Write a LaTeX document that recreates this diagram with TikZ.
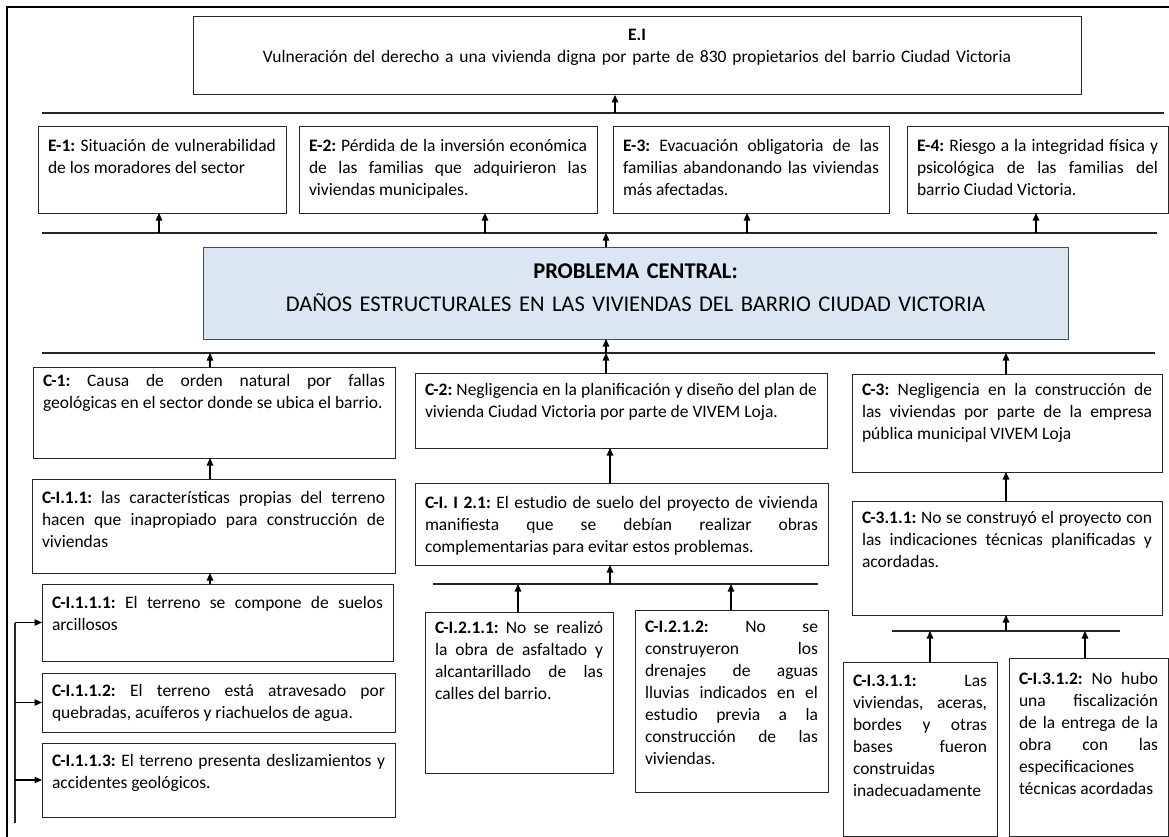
\documentclass[tikz,border=0pt]{standalone}
\usepackage{fontspec}
\setmainfont{Carlito}
\usetikzlibrary{arrows.meta}
\frenchspacing
\hbadness=10000 \tolerance=10000 \hfuzz=30pt \vfuzz=30pt
\definecolor{probfill}{RGB}{220,230,242}
\definecolor{probdraw}{RGB}{64,76,92}
\definecolor{boxdraw}{RGB}{40,40,40}
\tikzset{
  tbox/.style={draw=boxdraw, line width=1pt, anchor=north west, inner xsep=10pt, inner ysep=0pt, outer sep=0pt, align=justify, font=\fontsize{17.5}{22}\selectfont\frenchspacing},
  arr/.style={-{Triangle[width=6.5pt,length=7.5pt]}, line width=1.1pt, draw=black},
  hline/.style={line width=1.1pt, draw=black!85},
  frame/.style={line width=1.8pt, draw=black},
}
\newcommand\mkbox[8][]{%
  \pgfmathsetmacro\bxw{#5-#3-20}%
  \pgfmathsetmacro\bxd{#6-#4-#7}%
  \node[tbox,#1, text width=\bxw pt, text height=#7pt, text depth=\bxd pt] (#2) at (#3,#4) {#8};}
\begin{document}
\begin{tikzpicture}[x=1pt,y=-1pt]
\fill[white] (0,0) rectangle (1169,837);
\useasboundingbox (0,0) rectangle (1169,837);
% frame
\draw[frame] (7,837) -- (7,7) -- (1169,7);
% effects
\mkbox[align=center]{EI}{193}{17}{1081}{95}{24}{\textbf{E.I}\\Vulneración del derecho a una vivienda digna por parte de 830 propietarios del barrio Ciudad Victoria}
\mkbox{E1}{38}{127}{286}{213}{25}{\textbf{E-1:} Situación de vulnerabilidad\linebreak de los moradores del sector}
\mkbox{E2}{299}{127}{597}{213}{25}{\textbf{E-2:} Pérdida de la inversión económica\linebreak de las familias que adquirieron las\linebreak viviendas municipales.}
\mkbox{E3}{613}{127}{889}{213}{25}{\textbf{E-3:} Evacuación obligatoria de las\linebreak familias abandonando las viviendas\linebreak más afectadas.}
\mkbox{E4}{907}{127}{1168}{213}{25}{\textbf{E-4:} Riesgo a la integridad física y\linebreak psicológica de las familias del\linebreak barrio Ciudad Victoria.}
% central problem
\mkbox[align=center, fill=probfill, draw=probdraw, font=\fontsize{22.5}{33}\selectfont]{P}{203}{247}{1068}{339}{31}{\textbf{PROBLEMA CENTRAL:}\\DAÑOS ESTRUCTURALES EN LAS VIVIENDAS DEL BARRIO CIUDAD VICTORIA}
% causes
\mkbox{C1}{33}{367}{395}{458}{19}{\textbf{C-1:} Causa de orden natural por fallas\linebreak geológicas en el sector donde se ubica el barrio.}
\mkbox{C2}{415}{373}{827}{448}{22}{\textbf{C-2:} Negligencia en la planificación y diseño del plan de\linebreak vivienda Ciudad Victoria por parte de VIVEM Loja.}
\mkbox{C3}{852}{374}{1162}{472}{21}{\textbf{C-3:} Negligencia en la construcción de\linebreak las viviendas por parte de la empresa\linebreak pública municipal VIVEM Loja}
\mkbox{C11}{32}{479}{395}{573}{24}{\textbf{C-I.1.1:} las características propias del terreno\linebreak hacen que inapropiado para construcción de\linebreak viviendas}
\mkbox{C111}{42}{584}{393}{661}{24}{\textbf{C-I.1.1.1:} El terreno se compone de suelos\linebreak arcillosos}
\mkbox{C112}{42}{673}{395}{732}{23}{\textbf{C-I.1.1.2:} El terreno está atravesado por\linebreak quebradas, acuíferos y riachuelos de agua.}
\mkbox{C113}{42}{743}{395}{817}{23}{\textbf{C-I.1.1.3:} El terreno presenta deslizamientos y\linebreak accidentes geológicos.}
\mkbox{C21}{415}{483}{828}{565}{25}{\textbf{C-I. I 2.1:} El estudio de suelo del proyecto de vivienda\linebreak manifiesta que se debían realizar obras\linebreak complementarias para evitar estos problemas.}
\mkbox{C211}{425}{612}{613}{773}{21}{\textbf{C-I.2.1.1:} No se realizó\linebreak la obra de asfaltado y\linebreak alcantarillado de las\linebreak calles del barrio.}
\mkbox{C212}{635}{610}{828}{792}{22}{\textbf{C-I.2.1.2:} No se\linebreak construyeron los\linebreak drenajes de aguas\linebreak lluvias indicados en el\linebreak estudio previa a la\linebreak construcción de las\linebreak viviendas.}
\mkbox{C31}{852}{501}{1162}{615}{22}{\textbf{C-3.1.1:} No se construyó el proyecto con\linebreak las indicaciones técnicas planificadas y\linebreak acordadas.}
\mkbox{C311}{843}{662}{997}{836}{24}{\textbf{C-I.3.1.1:} Las\linebreak viviendas, aceras,\linebreak bordes y otras\linebreak bases fueron\linebreak construidas\linebreak inadecuadamente}
\mkbox{C312}{1009}{658}{1168}{836}{26}{\textbf{C-I.3.1.2:} No hubo\linebreak una fiscalización\linebreak de la entrega de la\linebreak obra con las\linebreak especificaciones\linebreak técnicas acordadas}
% horizontal lines
\coordinate (LA1) at (42,113); \coordinate (LA2) at (1164,113);
\coordinate (LB1) at (42,233); \coordinate (LB2) at (1157,233);
\coordinate (LC1) at (42,353); \coordinate (LC2) at (1155,353);
\coordinate (LD1) at (433,584); \coordinate (LD2) at (818,584);
\coordinate (LE1) at (892,631); \coordinate (LE2) at (1120,631);
\draw[hline] (LA1) -- (LA2);
\draw[hline] (LB1) -- (LB2);
\draw[hline] (LC1) -- (LC2);
\draw[hline] (LD1) -- (LD2);
\draw[hline] (LE1) -- (LE2);
% arrow anchor points on lines
\coordinate (aEI) at (615,113);
\coordinate (b1) at (159,233); \coordinate (b2) at (485,233);
\coordinate (b3) at (747,233); \coordinate (b4) at (1036,233);
\coordinate (bP) at (606,233);
\coordinate (cP) at (606,353); \coordinate (c1) at (210,353); \coordinate (c3) at (1006,353);
\coordinate (d0) at (610,584); \coordinate (d1) at (518,584); \coordinate (d2) at (731,584);
\coordinate (e0) at (1006,631); \coordinate (e1) at (930,631); \coordinate (e2) at (1085,631);
\coordinate (br) at (15,823);
% arrows
\draw[arr] (aEI) -- (aEI |- EI.south);
\draw[arr] (b1) -- (b1 |- E1.south);
\draw[arr] (b2) -- (b2 |- E2.south);
\draw[arr] (b3) -- (b3 |- E3.south);
\draw[arr] (b4) -- (b4 |- E4.south);
\draw[arr] (bP |- P.north) -- (bP);
\draw[arr] (cP) -- (cP |- P.south);
\draw[arr] (cP |- C2.north) -- (cP);
\draw[arr] (c1 |- C1.north) -- (c1);
\draw[arr] (c3 |- C3.north) -- (c3);
\draw[arr] (c1 |- C11.north) -- (c1 |- C1.south);
\draw[arr] (c1 |- C111.north) -- (c1 |- C11.south);
\draw[hline] (br |- C111.west) -- (br);
\draw[arr] (br |- C111.west) -- (C111.west);
\draw[arr] (br |- C112.west) -- (C112.west);
\draw[arr] (br |- C113.west) -- (C113.west);
\draw[arr] (d0 |- C21.north) -- (d0 |- C2.south);
\draw[arr] (d0) -- (d0 |- C21.south);
\draw[arr] (d1 |- C211.north) -- (d1);
\draw[arr] (d2 |- C212.north) -- (d2);
\draw[arr] (c3 |- C31.north) -- (c3 |- C3.south);
\draw[arr] (e0) -- (e0 |- C31.south);
\draw[arr] (e1 |- C311.north) -- (e1);
\draw[arr] (e2 |- C312.north) -- (e2);
\end{tikzpicture}
\end{document}
